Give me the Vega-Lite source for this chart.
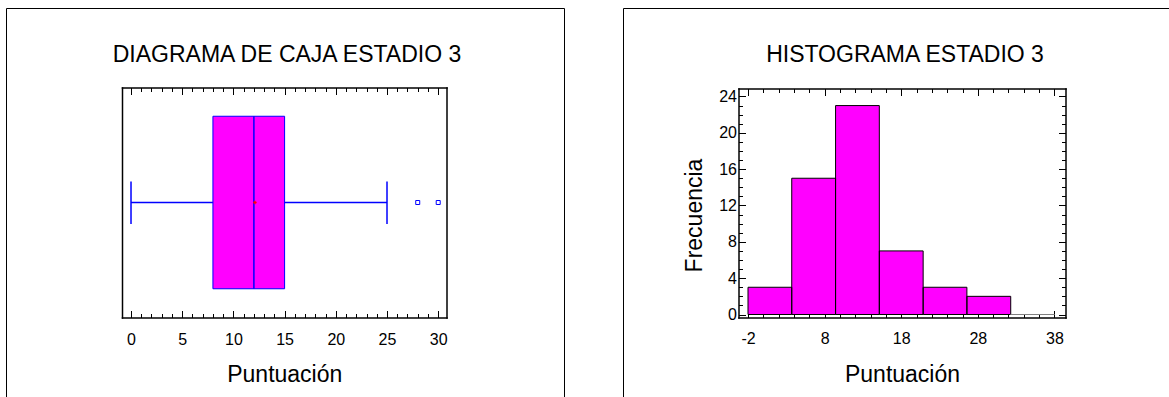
{
  "$schema": "https://vega.github.io/schema/vega-lite/v6.json",
  "usermeta": {"embedOptions": {"actions": false}},
  "background": "white",
  "padding": {"left": 5, "top": 7, "right": -12, "bottom": 0},
  "spacing": 57,
  "config": {
    "font": "Liberation Sans",
    "view": {"stroke": "#000000", "strokeWidth": 1, "fill": "white"},
    "title": {"font": "Liberation Sans", "fontSize": 23, "fontWeight": "normal", "color": "#000000", "anchor": "middle", "offset": -58.5},
    "axis": {
      "grid": false,
      "labelFont": "Liberation Sans",
      "labelFontSize": 16,
      "labelColor": "#000000",
      "labelOverlap": false,
      "labelFlush": false,
      "tickColor": "#000000",
      "tickWidth": 1,
      "domainColor": "#000000",
      "domainWidth": 1.5,
      "domainCap": "square",
      "titleFont": "Liberation Sans",
      "titleFontSize": 23,
      "titleFontWeight": "normal",
      "titleColor": "#000000"
    }
  },
  "datasets": {
    "box": [{"min": 0, "q1": 8, "median": 12, "q3": 15, "max": 25, "mean": 12.1}],
    "outliers": [{"value": 28}, {"value": 30}],
    "hist": [
      {"bin_start": -2, "bin_end": 3.71, "count": 3},
      {"bin_start": 3.71, "bin_end": 9.43, "count": 15},
      {"bin_start": 9.43, "bin_end": 15.14, "count": 23},
      {"bin_start": 15.14, "bin_end": 20.86, "count": 7},
      {"bin_start": 20.86, "bin_end": 26.57, "count": 3},
      {"bin_start": 26.57, "bin_end": 32.29, "count": 2},
      {"bin_start": 32.29, "bin_end": 38, "count": 0}
    ]
  },
  "hconcat": [
    {
      "width": 558,
      "height": 389,
      "title": {"text": "DIAGRAMA DE CAJA ESTADIO 3", "dx": 2},
      "resolve": {"axis": {"x": "independent", "y": "independent"}},
      "layer": [
        {
          "data": {"name": "box"},
          "mark": {"type": "rect", "fill": "#ff00ff", "stroke": "#0000ff", "strokeWidth": 1},
          "encoding": {
            "x": {
              "field": "q1", "type": "quantitative",
              "scale": {"domain": [-0.88, 30.81], "range": [116, 440.5], "nice": false, "zero": false},
              "axis": {
                "orient": "bottom", "offset": -79.5,
                "values": [0,1,2,3,4,5,6,7,8,9,10,11,12,13,14,15,16,17,18,19,20,21,22,23,24,25,26,27,28,29,30],
                "labelExpr": "datum.value % 5 === 0 ? datum.label : ''",
                "tickSize": {"condition": {"test": "datum.value % 5 === 0", "value": -7}, "value": -4},
                "labelPadding": 21,
                "title": "Puntuación",
                "titlePadding": 13
              }
            },
            "x2": {"field": "q3"},
            "y": {
              "datum": 0.125, "type": "quantitative",
              "scale": {"domain": [0, 1], "range": [309.5, 79.5], "nice": false, "zero": false},
              "axis": {"orient": "left", "offset": -116, "labels": false, "ticks": false, "title": null}
            },
            "y2": {"datum": 0.875}
          }
        },
        {
          "data": {"name": "box"},
          "mark": {"type": "rule", "color": "#0000ff", "strokeWidth": 1.5},
          "encoding": {
            "x": {
              "field": "min", "type": "quantitative",
              "axis": {
                "orient": "top", "offset": -79.5,
                "values": [0,1,2,3,4,5,6,7,8,9,10,11,12,13,14,15,16,17,18,19,20,21,22,23,24,25,26,27,28,29,30],
                "labels": false,
                "tickSize": {"condition": {"test": "datum.value % 5 === 0", "value": -7}, "value": -4},
                "title": null
              }
            },
            "x2": {"field": "q1"},
            "y": {
              "datum": 0.5, "type": "quantitative",
              "axis": {"orient": "right", "offset": -117.5, "labels": false, "ticks": false, "title": null}
            }
          }
        },
        {
          "data": {"name": "box"},
          "mark": {"type": "rule", "color": "#0000ff", "strokeWidth": 1.5},
          "encoding": {
            "x": {"field": "q3", "type": "quantitative", "axis": null},
            "x2": {"field": "max"},
            "y": {"datum": 0.5, "type": "quantitative", "axis": null}
          }
        },
        {
          "data": {"name": "box"},
          "transform": [{"fold": ["min", "max"], "as": ["stat", "v"]}],
          "mark": {"type": "rule", "color": "#0000ff", "strokeWidth": 1.5},
          "encoding": {
            "x": {"field": "v", "type": "quantitative", "axis": null},
            "y": {"datum": 0.407, "type": "quantitative", "axis": null},
            "y2": {"datum": 0.591}
          }
        },
        {
          "data": {"name": "box"},
          "mark": {"type": "rule", "color": "#0000ff", "strokeWidth": 1.5},
          "encoding": {
            "x": {"field": "median", "type": "quantitative", "axis": null},
            "y": {"datum": 0.125, "type": "quantitative", "axis": null},
            "y2": {"datum": 0.875}
          }
        },
        {
          "data": {"name": "outliers"},
          "mark": {"type": "point", "shape": "square", "size": 16, "filled": true, "fill": "white", "stroke": "#0000ff", "strokeWidth": 1, "opacity": 1},
          "encoding": {
            "x": {"field": "value", "type": "quantitative", "axis": null},
            "y": {"datum": 0.5, "type": "quantitative", "axis": null}
          }
        },
        {
          "data": {"name": "box"},
          "mark": {"type": "point", "shape": "cross", "size": 12, "filled": true, "color": "#ff0000", "opacity": 1},
          "encoding": {
            "x": {"field": "mean", "type": "quantitative", "axis": null},
            "y": {"datum": 0.5, "type": "quantitative", "axis": null}
          }
        }
      ]
    },
    {
      "width": 558,
      "height": 389,
      "title": {"text": "HISTOGRAMA ESTADIO 3", "dx": 3},
      "resolve": {"axis": {"x": "independent", "y": "independent"}},
      "layer": [
        {
          "data": {"name": "hist"},
          "mark": {"type": "rect", "fill": "#ff00ff", "strokeWidth": 0},
          "encoding": {
            "x": {
              "field": "bin_start", "type": "quantitative",
              "scale": {"domain": [-3.24, 39.44], "range": [115.5, 442.5], "nice": false, "zero": false},
              "axis": {
                "orient": "bottom", "offset": -79.5,
                "values": [-2,0,2,4,6,8,10,12,14,16,18,20,22,24,26,28,30,32,34,36,38],
                "labelExpr": "(datum.value + 2) % 10 === 0 ? '' + datum.value : ''",
                "tickSize": {"condition": {"test": "(datum.value + 2) % 10 === 0", "value": -7}, "value": -4},
                "labelPadding": 20,
                "title": "Puntuación",
                "titlePadding": 14
              }
            },
            "x2": {"field": "bin_end"},
            "y": {
              "field": "count", "type": "quantitative",
              "scale": {"domain": [-0.33, 24.88], "range": [309.5, 80.5], "nice": false, "zero": false},
              "axis": {
                "orient": "left", "offset": -115.5,
                "values": [0,1,2,3,4,5,6,7,8,9,10,11,12,13,14,15,16,17,18,19,20,21,22,23,24],
                "labelExpr": "datum.value % 4 === 0 ? datum.label : ''",
                "tickSize": {"condition": {"test": "datum.value % 4 === 0", "value": -7}, "value": -4},
                "labelPadding": 9,
                "title": "Frecuencia",
                "titlePadding": 12,
                "titleY": 207
              }
            },
            "y2": {"datum": 0}
          }
        },
        {
          "data": {"name": "hist"},
          "mark": {"type": "rect", "fill": null, "fillOpacity": 0, "strokeWidth": 1},
          "encoding": {
            "x": {
              "field": "bin_start", "type": "quantitative",
              "axis": {
                "orient": "top", "offset": -80.5,
                "values": [-2,0,2,4,6,8,10,12,14,16,18,20,22,24,26,28,30,32,34,36,38],
                "labels": false,
                "tickSize": {"condition": {"test": "(datum.value + 2) % 10 === 0", "value": -7}, "value": -4},
                "title": null
              }
            },
            "x2": {"field": "bin_end"},
            "y": {
              "field": "count", "type": "quantitative",
              "axis": {
                "orient": "right", "offset": -115.5,
                "values": [0,1,2,3,4,5,6,7,8,9,10,11,12,13,14,15,16,17,18,19,20,21,22,23,24],
                "labels": false,
                "tickSize": {"condition": {"test": "datum.value % 4 === 0", "value": -7}, "value": -4},
                "title": null
              }
            },
            "y2": {"datum": 0},
            "stroke": {"condition": {"test": "datum.count === 0", "value": "#808080"}, "value": "#000000"}
          }
        }
      ]
    }
  ]
}
